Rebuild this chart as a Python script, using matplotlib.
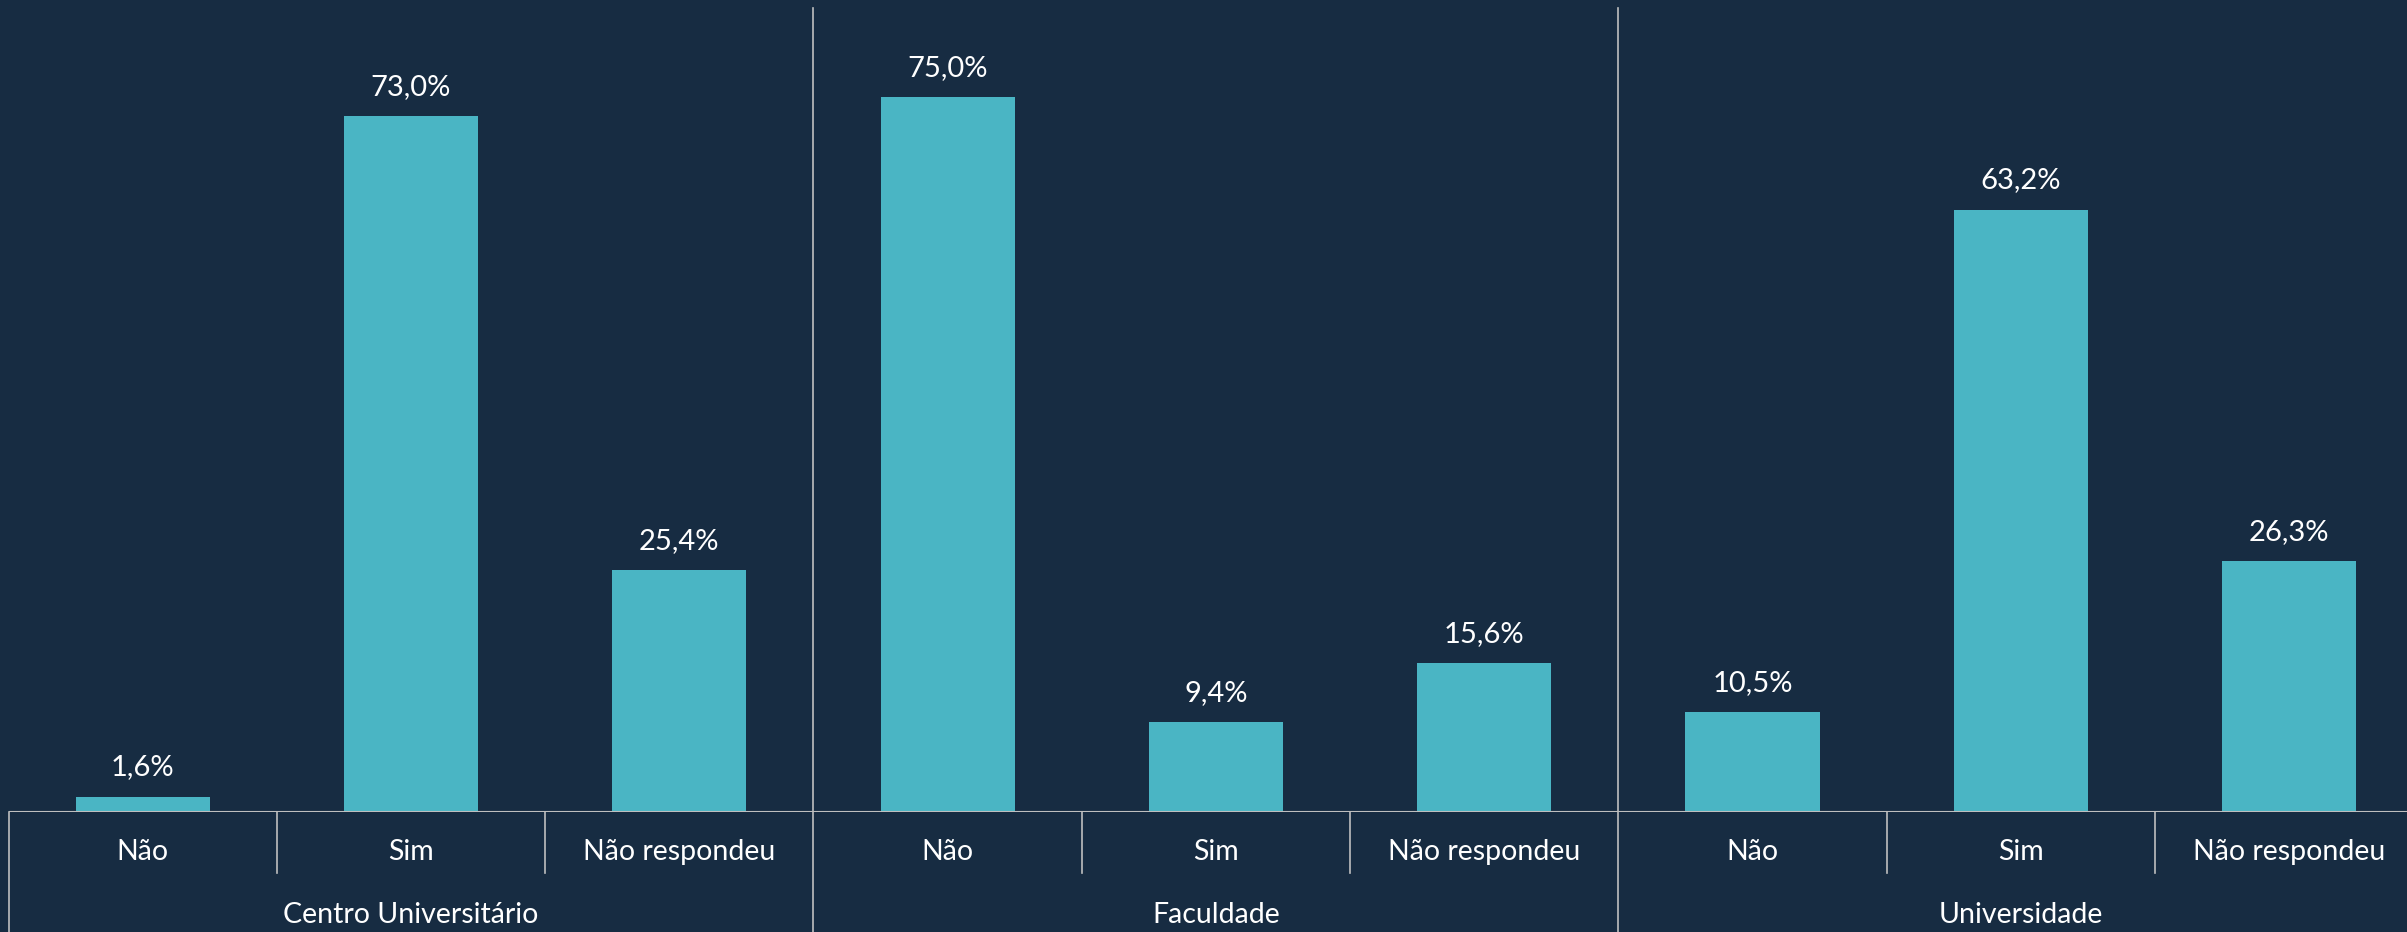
import numpy as np
import matplotlib.pyplot as plt

groups = ["Centro Universitário", "Faculdade", "Universidade"]
answers = ["Não", "Sim", "Não respondeu"]
centro = [1.6, 73.0, 25.4]
faculdade = [75.0, 9.4, 15.6]
universidade = [10.5, 63.2, 26.3]

bg = "#172c42"
bar_color = "#4ab5c4"
line_color = "#bfbfbf"
plt.rcParams["font.family"] = ["Lato", "DejaVu Sans"]

values = centro + faculdade + universidade
labels = answers * len(groups)
x = np.arange(len(values))

fig = plt.figure(figsize=(24.07, 9.32), dpi=100, facecolor=bg)
ax = fig.add_axes([0.00357, 0.1288, 1.0032, 0.8712])
ax.set_facecolor(bg)

ax.bar(x, values, width=0.5, color=bar_color)
for xi, v in zip(x, values):
    ax.text(xi, v + 1.7, f"{v:.1f}%".replace(".", ","), ha="center", va="bottom",
            color="white", fontsize=21)

ax.set_xlim(-0.5, len(values) - 0.5)
ax.set_ylim(0, 85.2)
for s in ax.spines.values():
    s.set_visible(False)
ax.set_yticks([])
ax.set_xticks([])
ax.axhline(0, color=line_color, lw=1.5, zorder=5)

# separators between groups go from top of plot to bottom of figure
for i in range(len(groups) + 1):
    xb = i * 3 - 0.5
    top = 0.99 if 0 < i < len(groups) else 0.0
    ax.plot([xb, xb], [-0.17, top], transform=ax.get_xaxis_transform(),
            color=line_color, lw=1.2, clip_on=False)

# short ticks between answers
for i in range(len(values)):
    if i % 3 != 0:
        ax.plot([i - 0.5, i - 0.5], [-0.075, 0], transform=ax.get_xaxis_transform(),
                color=line_color, lw=1.2, clip_on=False)

for xi, lab in zip(x, labels):
    ax.text(xi, -0.049, lab, transform=ax.get_xaxis_transform(), ha="center",
            va="center", color="white", fontsize=20.5)

for i, g in enumerate(groups):
    ax.text(i * 3 + 1, -0.127, g, transform=ax.get_xaxis_transform(), ha="center",
            va="center", color="white", fontsize=20.5)

fig.savefig("out.png", dpi=100, facecolor=bg)
